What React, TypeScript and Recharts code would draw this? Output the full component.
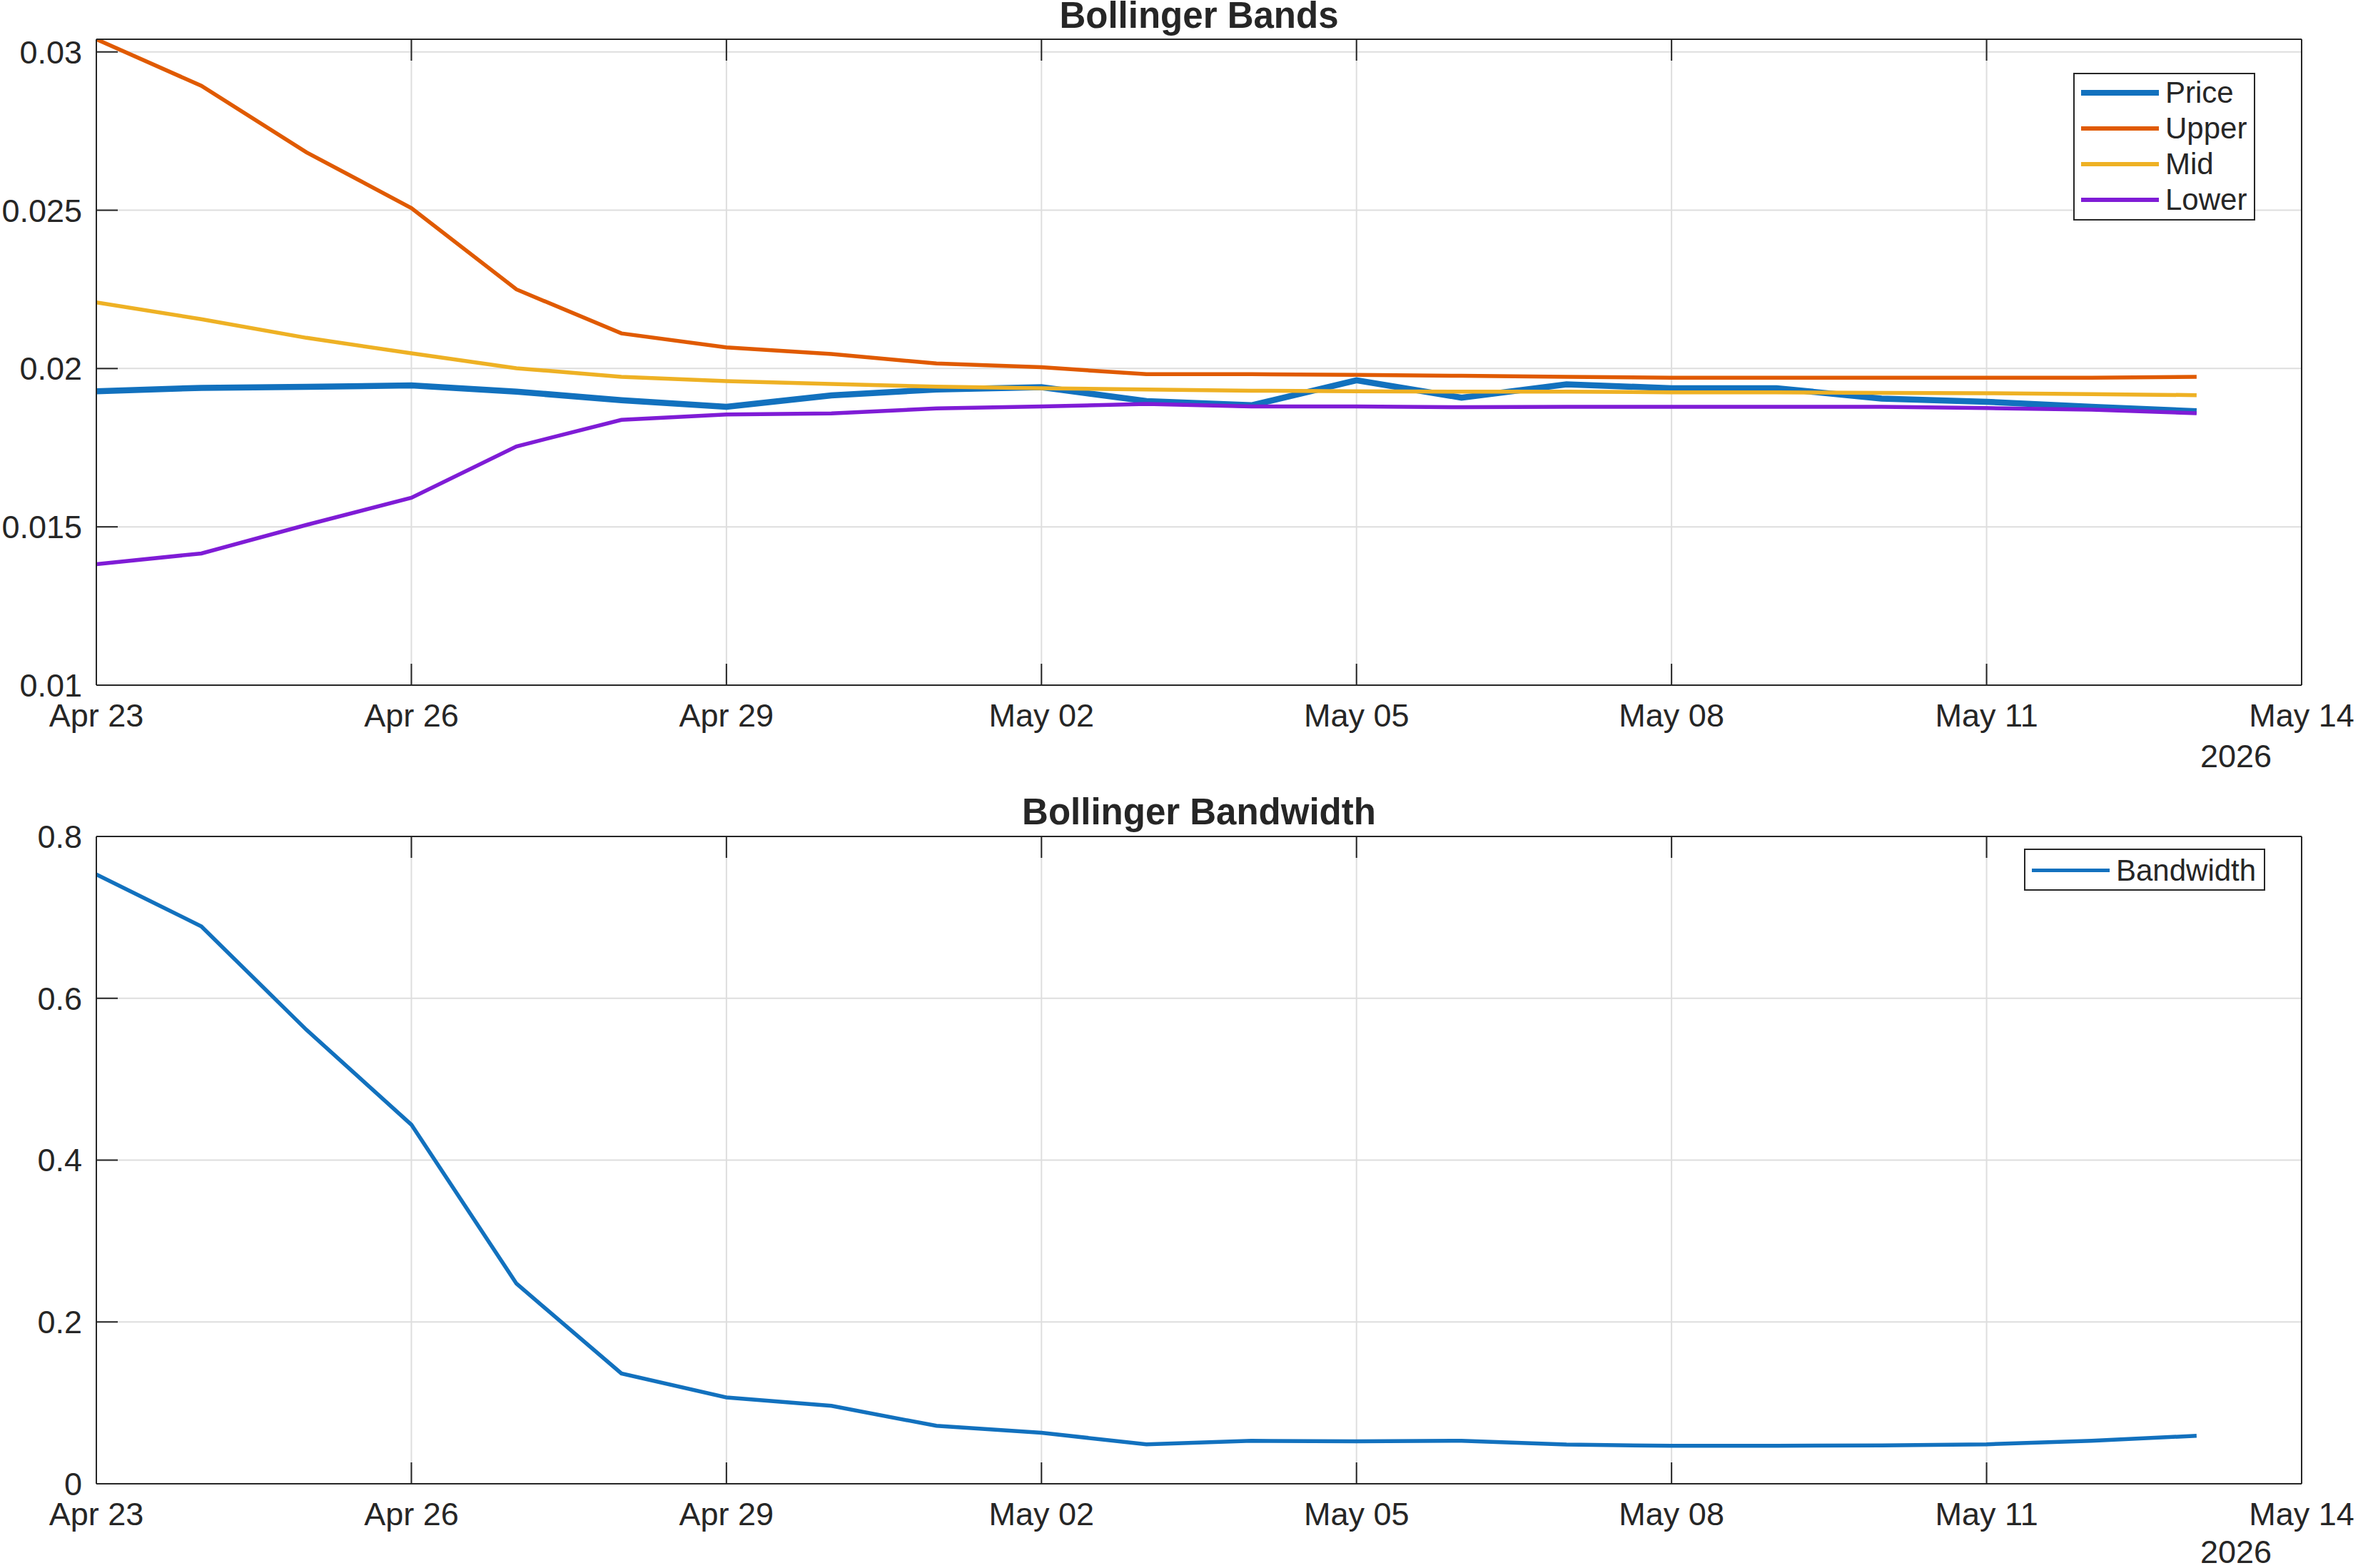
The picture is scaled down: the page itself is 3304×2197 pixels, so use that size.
import { CartesianGrid, Legend, Line, LineChart, XAxis, YAxis } from "recharts";

const dates = [
  "2026-04-23", "2026-04-24", "2026-04-25", "2026-04-26", "2026-04-27", "2026-04-28", "2026-04-29",
  "2026-04-30", "2026-05-01", "2026-05-02", "2026-05-03", "2026-05-04", "2026-05-05", "2026-05-06",
  "2026-05-07", "2026-05-08", "2026-05-09", "2026-05-10", "2026-05-11", "2026-05-12", "2026-05-13",
];
const price = [
  0.01928, 0.01939, 0.01942, 0.01947, 0.01927, 0.019, 0.01879, 0.01915, 0.01934, 0.01941, 0.01897,
  0.01884, 0.01963, 0.01908, 0.0195, 0.01938, 0.01938, 0.01905, 0.01895, 0.01879, 0.01865,
];
const upper = [
  0.0304, 0.02893, 0.02683, 0.02507, 0.0225, 0.02111, 0.02067, 0.02046, 0.02016, 0.02004, 0.01982,
  0.01982, 0.0198, 0.01977, 0.01974, 0.01971, 0.01971, 0.01971, 0.01971, 0.01971, 0.01974,
];
const mid = [
  0.02209, 0.02156, 0.02097, 0.02048, 0.02001, 0.01974, 0.0196, 0.01951, 0.01943, 0.01938, 0.01934,
  0.0193, 0.01928, 0.01927, 0.01927, 0.01925, 0.01925, 0.01923, 0.01922, 0.01919, 0.01916,
];
const lower = [
  0.01382, 0.01416, 0.01506, 0.01592, 0.01754, 0.01838, 0.01855, 0.01858, 0.01874, 0.0188, 0.01888,
  0.0188, 0.0188, 0.01878, 0.01879, 0.01879, 0.01879, 0.01879, 0.01875, 0.0187, 0.01859,
];
const bandwidth = [
  0.7531, 0.6889, 0.5611, 0.4438, 0.2475, 0.1364, 0.1068, 0.0963, 0.0716, 0.063, 0.0488, 0.0531,
  0.0525, 0.0531, 0.0485, 0.0469, 0.0469, 0.0475, 0.0488, 0.0531, 0.0593,
];

const tickDates = ["2026-04-23", "2026-04-26", "2026-04-29", "2026-05-02", "2026-05-05", "2026-05-08", "2026-05-11", "2026-05-14"];
const tickLabels = ["Apr 23", "Apr 26", "Apr 29", "May 02", "May 05", "May 08", "May 11", "May 14"];
const bandTicks = [0.01, 0.015, 0.02, 0.025, 0.03];
const widthTicks = [0, 0.2, 0.4, 0.6, 0.8];

const FONT = '"Liberation Sans", Arial, Helvetica, sans-serif';
const INK = "#262626";
const W = 3304;

const xTicks = tickDates.map((d) => Date.parse(d));
const xDomain = [xTicks[0], xTicks[xTicks.length - 1]];
const fmtX = (v: number) => tickLabels[xTicks.indexOf(v)] ?? "";
const blank = () => "";

const bandData = dates.map((d, i) => ({ t: Date.parse(d), price: price[i], upper: upper[i], mid: mid[i], lower: lower[i] }));
const widthData = dates.map((d, i) => ({ t: Date.parse(d), bandwidth: bandwidth[i] }));

const bandSeries = [
  { key: "price", name: "Price", color: "#1271BE", width: 8.5 },
  { key: "upper", name: "Upper", color: "#E05A00", width: 5.5 },
  { key: "mid", name: "Mid", color: "#EEB124", width: 5.5 },
  { key: "lower", name: "Lower", color: "#7F1CD6", width: 5.5 },
];
const widthSeries = [{ key: "bandwidth", name: "Bandwidth", color: "#1271BE", width: 5.5 }];

type Series = { key: string; name: string; color: string; width: number };

// legend keeps plotting order (recharts sorts payload by name otherwise)
function BoxLegend({ payload, series, rowH }: { payload?: any[]; series: Series[]; rowH: number }) {
  const shown = series.filter((s) => (payload ?? []).some((p) => p.dataKey === s.key));
  return (
    <div
      style={{
        border: `2px solid ${INK}`,
        background: "#fff",
        boxSizing: "border-box",
        width: "100%",
        height: "100%",
        paddingTop: 1,
        fontFamily: FONT,
      }}
    >
      {shown.map((s) => (
        <div key={s.key} style={{ display: "flex", alignItems: "center", height: rowH }}>
          <span style={{ display: "inline-block", width: 109, height: s.width, background: s.color, marginLeft: 9 }} />
          <span style={{ marginLeft: 9, fontSize: 42, color: INK, lineHeight: 1 }}>{s.name}</span>
        </div>
      ))}
    </div>
  );
}

function Panel({
  data,
  series,
  height,
  margin,
  yDomain,
  yTicks,
  legendBox,
  rowH,
}: {
  data: any[];
  series: Series[];
  height: number;
  margin: { top: number; right: number; bottom: number; left: number };
  yDomain: number[];
  yTicks: number[];
  legendBox: { left: number; top: number; width: number; height: number };
  rowH: number;
}) {
  const axisStroke = { stroke: INK, strokeWidth: 2 };
  const tickStyle = { fill: INK, fontSize: 45, fontFamily: FONT };
  return (
    <LineChart width={W} height={height} data={data} margin={margin}>
      <CartesianGrid stroke="#DEDEDE" strokeWidth={2} />
      <XAxis
        dataKey="t"
        type="number"
        domain={xDomain}
        ticks={xTicks}
        interval={0}
        tickFormatter={fmtX}
        height={100}
        tickSize={-30}
        tickMargin={56}
        axisLine={axisStroke}
        tickLine={axisStroke}
        tick={tickStyle}
        allowDataOverflow
      />
      <XAxis
        xAxisId="top"
        orientation="top"
        dataKey="t"
        type="number"
        domain={xDomain}
        ticks={xTicks}
        interval={0}
        height={1}
        tickSize={-30}
        tickFormatter={blank}
        tick={{ fontSize: 1 }}
        axisLine={axisStroke}
        tickLine={axisStroke}
      />
      <YAxis
        type="number"
        domain={yDomain}
        ticks={yTicks}
        interval={0}
        width={135}
        tickSize={-30}
        tickMargin={50}
        axisLine={axisStroke}
        tickLine={axisStroke}
        tick={tickStyle}
        allowDataOverflow
      />
      <YAxis
        yAxisId="right"
        orientation="right"
        type="number"
        domain={yDomain}
        ticks={yTicks}
        interval={0}
        width={1}
        tickSize={-30}
        tickFormatter={blank}
        tick={{ fontSize: 1 }}
        axisLine={axisStroke}
        tickLine={axisStroke}
      />
      <Legend
        layout="horizontal"
        verticalAlign="middle"
        align="center"
        wrapperStyle={{ ...legendBox, position: "absolute" }}
        content={(props: any) => <BoxLegend payload={props.payload} series={series} rowH={rowH} />}
      />
      {series.map((s) => (
        <Line
          key={s.key}
          type="linear"
          dataKey={s.key}
          name={s.name}
          stroke={s.color}
          strokeWidth={s.width}
          dot={false}
          activeDot={false}
          isAnimationActive={false}
        />
      ))}
    </LineChart>
  );
}

const titleStyle = (top: number): React.CSSProperties => ({
  position: "absolute",
  left: 135,
  width: 3090,
  top,
  height: 44,
  lineHeight: "44px",
  textAlign: "center",
  fontFamily: FONT,
  fontWeight: "bold",
  fontSize: 51,
  color: INK,
});

const yearStyle = (top: number): React.CSSProperties => ({
  position: "absolute",
  left: 3033,
  width: 200,
  top,
  height: 40,
  lineHeight: "40px",
  textAlign: "center",
  fontFamily: FONT,
  fontSize: 45,
  color: INK,
});

export default function App() {
  return (
    <div style={{ position: "absolute", left: 0, top: 0, width: W, height: 2197, background: "#fff", overflow: "hidden" }}>
      <div style={{ position: "absolute", left: 0, top: 0 }}>
        <Panel
          data={bandData}
          series={bandSeries}
          height={1100}
          margin={{ top: 54, right: 78, bottom: 40, left: 0 }}
          yDomain={[0.01, 0.0304]}
          yTicks={bandTicks}
          legendBox={{ left: 2905, top: 102, width: 255, height: 207 }}
          rowH={50}
        />
      </div>
      <div style={titleStyle(0)}>Bollinger Bands</div>
      <div style={yearStyle(1040)}>2026</div>

      <div style={{ position: "absolute", left: 0, top: 1100 }}>
        <Panel
          data={widthData}
          series={widthSeries}
          height={1097}
          margin={{ top: 71, right: 78, bottom: 18, left: 0 }}
          yDomain={[0, 0.8]}
          yTicks={widthTicks}
          legendBox={{ left: 2836, top: 89, width: 338, height: 59 }}
          rowH={55}
        />
      </div>
      <div style={titleStyle(1116)}>Bollinger Bandwidth</div>
      <div style={yearStyle(2155)}>2026</div>
    </div>
  );
}
